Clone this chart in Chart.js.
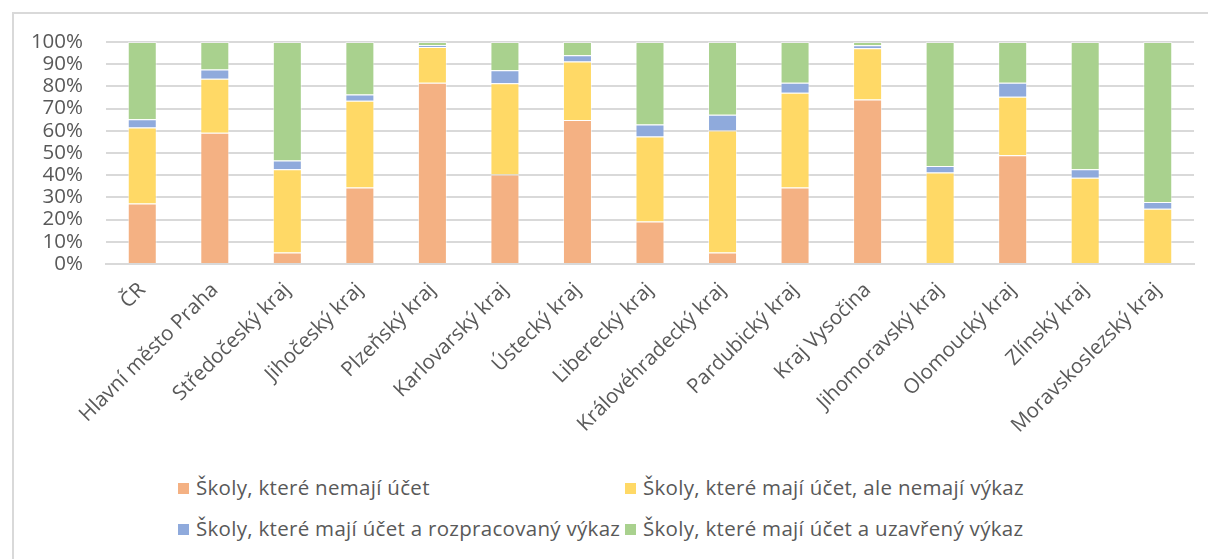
<!DOCTYPE html>
<html>
<head>
<meta charset="utf-8">
<script src="https://cdn.jsdelivr.net/npm/chart.js@4"></script>
<style>
body{margin:0;background:#fff;font-family:"Open Sans",sans-serif;}
#frame{position:absolute;left:12px;top:12px;width:1300px;height:700px;border-left:2px solid #d9d9d9;border-top:2px solid #d9d9d9;}
#wrap{position:absolute;left:0;top:0;width:1208px;height:460px;}
#legend{position:absolute;left:0;top:0;}
.item{position:absolute;font-size:20.5px;color:#595959;white-space:nowrap;line-height:26px;letter-spacing:0.3px;}
.box{display:inline-block;width:11px;height:11px;margin-right:7px;vertical-align:1px;}
</style>
</head>
<body>
<div id="frame"></div>
<div id="wrap"><canvas id="chart"></canvas></div>
<div id="legend"></div>
<script>
const categories = ['ČR','Hlavní město Praha','Středočeský kraj','Jihočeský kraj','Plzeňský kraj',
'Karlovarský kraj','Ústecký kraj','Liberecký kraj','Královéhradecký kraj','Pardubický kraj',
'Kraj Vysočina','Jihomoravský kraj','Olomoucký kraj','Zlínský kraj','Moravskoslezský kraj'];

const seriesNames = ['Školy, které nemají účet','Školy, které mají účet, ale nemají výkaz',
'Školy, které mají účet a rozpracovaný výkaz','Školy, které mají účet a uzavřený výkaz'];

// podíly v %
const noAccount =   [27.3,59.1, 5.2,34.5,81.7,40.3,64.9,19.2, 5.2,34.5,74.1, 0.0,49.0, 0.0, 0.0];
const noReport =    [34.2,24.4,37.5,39.0,16.1,41.1,26.3,38.2,54.9,42.6,23.1,41.2,26.3,38.8,24.9];
const inProgress =  [ 3.7, 4.1, 3.9, 2.8, 0.7, 5.9, 2.8, 5.4, 7.1, 4.6, 1.3, 3.0, 6.4, 3.9, 3.0];
const closed =      [34.8,12.4,53.4,23.7, 1.5,12.7, 6.0,37.2,32.8,18.3, 1.5,55.8,18.3,57.3,72.1];

const yTicks = [0,10,20,30,40,50,60,70,80,90,100];

const colors = ['#F4B183','#FFD966','#8FAADC','#A9D18E'];
const values = [noAccount,noReport,inProgress,closed];

const chart = new Chart(document.getElementById('chart'),{
type:'bar',
data:{
labels:categories,
datasets:seriesNames.map((name,i)=>({
label:name,
data:values[i],
backgroundColor:colors[i],
borderColor:'rgba(255,255,255,0.5)',
borderWidth:1,
barPercentage:0.4,
categoryPercentage:1
}))
},
options:{
responsive:true,
maintainAspectRatio:false,
animation:false,
layout:{padding:{top:42,right:14,left:0,bottom:0}},
plugins:{legend:{display:false},tooltip:{enabled:false}},
scales:{
x:{
stacked:true,
grid:{display:false},
border:{color:'#d9d9d9',width:2},
ticks:{
color:'#595959',
font:{family:'"Open Sans"',size:20.5},
minRotation:45,
maxRotation:45,
autoSkip:false,
padding:6
},
afterFit:function(scale){
scale.height=196;
}
},
y:{
stacked:true,
min:0,
max:100,
border:{display:false},
grid:{color:'#d9d9d9',lineWidth:2,drawTicks:false},
afterBuildTicks:function(scale){
scale.ticks=yTicks.map(v=>({value:v}));
},
ticks:{
color:'#595959',
font:{family:'"Open Sans"',size:20.5},
padding:23,
autoSkip:false,
callback:function(v){return v+'%';}
},
afterFit:function(scale){
scale.width=106;
}
}
}
}
});

// legenda ve dvou sloupcích
const legend = document.getElementById('legend');
const pos = [[178,474],[625,474],[178,515],[625,515]];
seriesNames.forEach((name,i)=>{
const d = document.createElement('div');
d.className='item';
d.style.left=pos[i][0]+'px';
d.style.top=pos[i][1]+'px';
d.innerHTML='<span class="box" style="background:'+colors[i]+'"></span>'+name;
legend.appendChild(d);
});
</script>
</body>
</html>
